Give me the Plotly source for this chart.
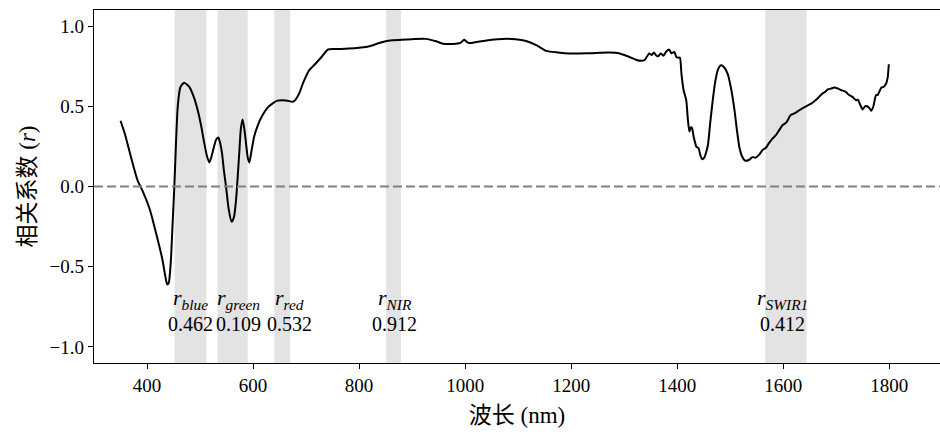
import plotly.graph_objects as go

# Correlation spectrum (wavelength nm, r)
wavelength = [350, 358, 370, 382, 392, 405, 417, 429, 434, 438, 441, 445, 448, 451.5, 455, 458, 463, 470, 480, 488, 495.5, 502, 508, 513, 517.5, 521, 525, 530, 534.5, 538, 541.5, 545, 549, 554, 559.6, 564, 568, 571, 574, 577, 580.3, 583.5, 587, 590, 593, 597, 602, 610, 618, 627, 637, 646, 656, 665, 675, 681, 687, 695, 706, 719, 730, 741, 752, 763, 780, 800, 813, 826, 838, 850, 863, 880, 900, 926, 945, 958, 970, 983, 991, 998, 1002, 1005, 1010, 1030, 1050, 1071, 1095, 1115, 1135, 1153, 1175, 1197, 1230, 1272, 1290, 1310, 1322, 1332, 1338, 1343, 1347, 1352, 1356, 1360, 1364, 1369, 1374, 1379, 1385, 1389, 1394.6, 1398, 1401, 1405, 1408, 1412, 1417, 1420, 1423, 1426, 1428, 1431, 1434, 1436, 1440, 1444, 1447, 1451, 1454, 1458, 1462, 1467, 1472, 1477, 1482.6, 1488, 1495, 1501, 1508, 1513, 1517, 1522, 1528, 1535, 1542, 1548, 1555, 1561, 1567, 1573, 1580, 1586, 1592, 1599, 1606, 1614, 1621, 1628, 1636, 1643, 1649, 1655, 1662, 1668, 1674, 1679, 1684, 1690, 1696, 1703, 1710, 1718, 1724, 1730, 1737, 1741, 1745, 1750, 1754, 1758, 1762, 1766, 1770, 1775, 1778, 1781, 1785, 1789, 1794, 1797, 1799, 1801, 1803.5]
correlation = [0.41, 0.33, 0.18, 0.04, -0.03, -0.14, -0.29, -0.455, -0.55, -0.61, -0.60, -0.46, -0.25, 0.0, 0.30, 0.50, 0.62, 0.646, 0.62, 0.56, 0.476, 0.38, 0.27, 0.19, 0.15, 0.18, 0.23, 0.29, 0.305, 0.27, 0.207, 0.10, 0.0, -0.14, -0.22, -0.19, -0.08, 0.06, 0.21, 0.36, 0.418, 0.36, 0.26, 0.18, 0.15, 0.22, 0.31, 0.39, 0.445, 0.49, 0.518, 0.535, 0.538, 0.535, 0.528, 0.545, 0.58, 0.65, 0.725, 0.77, 0.81, 0.853, 0.857, 0.857, 0.86, 0.865, 0.87, 0.88, 0.894, 0.905, 0.911, 0.915, 0.918, 0.92, 0.905, 0.89, 0.888, 0.89, 0.895, 0.915, 0.905, 0.897, 0.894, 0.905, 0.915, 0.92, 0.918, 0.907, 0.88, 0.845, 0.835, 0.829, 0.83, 0.835, 0.83, 0.807, 0.79, 0.783, 0.787, 0.81, 0.829, 0.82, 0.835, 0.818, 0.812, 0.829, 0.815, 0.84, 0.853, 0.83, 0.838, 0.81, 0.803, 0.803, 0.70, 0.60, 0.538, 0.42, 0.342, 0.37, 0.363, 0.31, 0.27, 0.248, 0.24, 0.19, 0.17, 0.18, 0.207, 0.26, 0.39, 0.538, 0.66, 0.73, 0.756, 0.745, 0.704, 0.62, 0.476, 0.34, 0.248, 0.19, 0.161, 0.165, 0.183, 0.18, 0.20, 0.228, 0.24, 0.27, 0.30, 0.32, 0.35, 0.383, 0.40, 0.445, 0.455, 0.47, 0.487, 0.50, 0.51, 0.522, 0.54, 0.56, 0.58, 0.59, 0.605, 0.61, 0.617, 0.61, 0.60, 0.59, 0.57, 0.56, 0.538, 0.54, 0.51, 0.48, 0.50, 0.50, 0.49, 0.472, 0.50, 0.57, 0.57, 0.59, 0.617, 0.62, 0.642, 0.68, 0.762]

# Landsat-like band ranges (nm)
band_names = ["blue", "green", "red", "NIR", "SWIR1"]
band_start = [452, 533, 640, 851, 1566]
band_end = [512, 590, 670, 879, 1644]
band_r = ["0.462", "0.109", "0.532", "0.912", "0.412"]
label_x = [482, 572, 668, 867, 1598]

x_ticks = [400, 600, 800, 1000, 1200, 1400, 1600, 1800]
y_ticks = [-1.0, -0.5, 0.0, 0.5, 1.0]

serif = "Times New Roman"

fig = go.Figure()

for s, e in zip(band_start, band_end):
    fig.add_vrect(x0=s, x1=e, fillcolor="#e3e3e3", opacity=1, line_width=0, layer="below")

fig.add_hline(y=0, line=dict(color="#808080", width=2, dash="9px,4px"))

fig.add_trace(go.Scatter(x=wavelength, y=correlation, mode="lines",
                         line=dict(color="black", width=2, shape="spline", smoothing=0.6),
                         showlegend=False, hoverinfo="skip"))

for name, xl, r in zip(band_names, label_x, band_r):
    fig.add_annotation(
        x=xl, y=-0.70, xref="x", yref="y", showarrow=False,
        text=f"<i>r</i><sub><i>{name}</i></sub>",
        font=dict(family=serif, size=22, color="black"), align="center",
    )
    fig.add_annotation(
        x=xl, y=-0.857, xref="x", yref="y", showarrow=False,
        text=r,
        font=dict(family=serif, size=20, color="black"), align="center",
    )

fig.update_layout(
    width=940, height=435,
    margin=dict(l=94, r=0, t=10, b=72),
    paper_bgcolor="white", plot_bgcolor="white",
    font=dict(family=serif, size=19, color="black"),
    showlegend=False,
)
fig.update_xaxes(
    range=[300, 1895.6], tickvals=x_ticks, ticktext=[str(v) for v in x_ticks],
    tickfont=dict(family=serif, size=19),
    showline=True, linecolor="black", linewidth=1.3, mirror=True,
    ticks="outside", ticklen=5, tickcolor="black", showgrid=False, zeroline=False,
    title=dict(text="<span style='font-family:Noto Sans CJK SC'>波长</span> (nm)", font=dict(family=serif, size=23), standoff=10),
)
fig.update_yaxes(
    range=[-1.1, 1.1], tickvals=y_ticks, ticktext=["−1.0", "−0.5", "0.0", "0.5", "1.0"],
    tickfont=dict(family=serif, size=19),
    showline=True, linecolor="black", linewidth=1.3, mirror=False,
    ticks="outside", ticklen=5, tickcolor="black", showgrid=False, zeroline=False,
    title=dict(text="<span style='font-family:Noto Sans CJK SC'>相关系数</span> (<i>r</i>)", font=dict(family=serif, size=23), standoff=7),
)

fig.write_html("out.html")
